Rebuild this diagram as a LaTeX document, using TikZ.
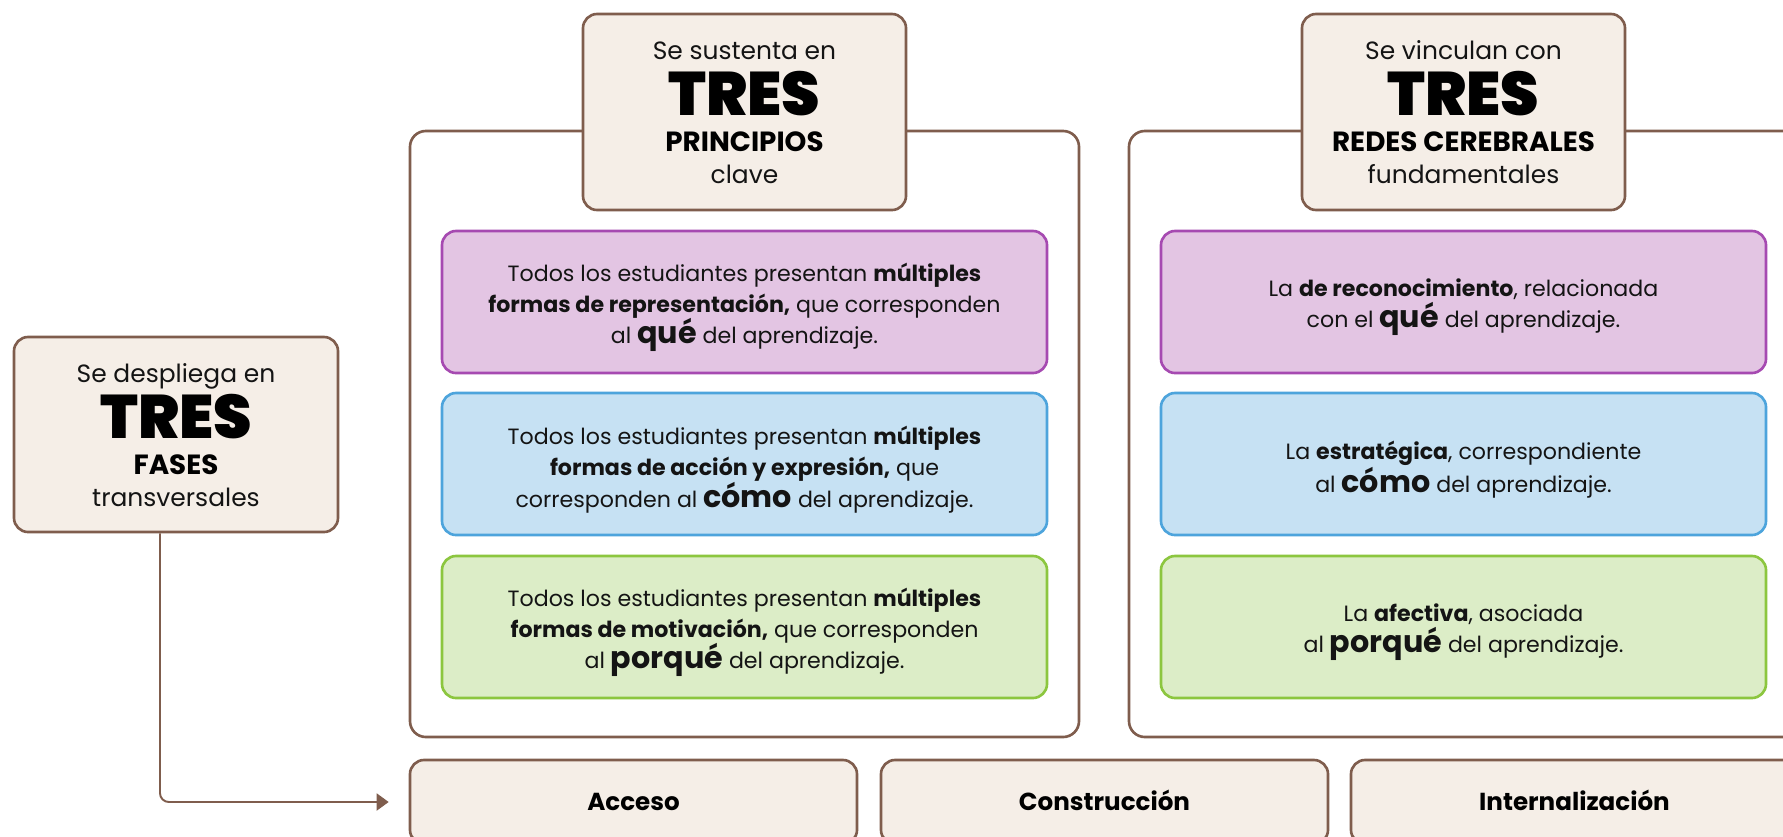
\documentclass[tikz,border=0pt]{standalone}
\usepackage{fontspec}
\setmainfont{Poppins}
\newfontfamily\gruesa{Poppins Black}
\usetikzlibrary{arrows.meta}
\definecolor{cafe}{HTML}{7F5D4D}
\definecolor{crema}{HTML}{F5EEE7}
\definecolor{tinta}{HTML}{141414}
\definecolor{moradoB}{HTML}{A64AB1}
\definecolor{moradoF}{HTML}{E3C5E3}
\definecolor{azulB}{HTML}{4DA4DC}
\definecolor{azulF}{HTML}{C6E1F3}
\definecolor{verdeB}{HTML}{8CC63F}
\definecolor{verdeF}{HTML}{DCEDC7}
\def\px{0.02cm}
\newcommand\enf[1]{{\fontsize{17.2}{18}\selectfont\bfseries #1}}
\tikzset{
	caja/.style={draw=cafe, fill=crema, line width=1.5pt, rounded corners=8pt, inner sep=0pt},
	marco/.style={draw=cafe, fill=white, line width=1.5pt, rounded corners=9pt, inner sep=0pt, minimum width=669*\px, minimum height=606*\px},
	cabeza/.style={caja, minimum width=323*\px, minimum height=196*\px},
	tarjeta/.style={line width=1.5pt, rounded corners=8pt, inner sep=0pt, minimum width=605*\px, minimum height=142*\px},
	morada/.style={tarjeta, draw=moradoB, fill=moradoF},
	azul/.style={tarjeta, draw=azulB, fill=azulF},
	verde/.style={tarjeta, draw=verdeB, fill=verdeF},
	texto/.style={align=center, inner sep=0pt, text=tinta, font=\fontsize{12.6}{17.8}\selectfont},
	chico/.style={anchor=base, inner sep=0pt, text=tinta, font=\fontsize{14.2}{16}\selectfont},
	grande/.style={anchor=base, inner sep=0pt, text=black, font=\gruesa\fontsize{35}{35}\selectfont},
	negrita/.style={anchor=base, inner sep=0pt, text=black, font=\bfseries\fontsize{15.8}{18}\selectfont},
	fase/.style={caja, minimum width=447*\px, minimum height=84*\px, text height=10pt, text depth=0pt, text=black, font=\bfseries\fontsize{14}{16}\selectfont},
	flecha/.style={draw=cafe, line width=1.1pt, rounded corners=5pt, -{Triangle[length=0.24cm, width=0.34cm]}}
}
\begin{document}
\begin{tikzpicture}[x=\px, y=-\px]
		%%%%% START %%%%%
		\useasboundingbox (0,0) rectangle (1783,836);
		\clip (0,0) rectangle (1783,836);
		
		\node[marco] (marcoP) at (744.5,434) {};
		\node[marco] (marcoR) at (1463.5,434) {};
		
		\node[cabeza] (principios) at (744.5,112) {};
		\node[chico] (prin1) at (744.5,59) {Se sustenta en};
		\node[grande] (prin2) at (744.5,115) {TRES};
		\node[negrita] (prin3) at (744.5,151) {PRINCIPIOS};
		\node[chico] (prin4) at (744.5,183) {clave};
		
		\node[cabeza] (redes) at (1463.5,112) {};
		\node[chico] (red1) at (1463.5,59) {Se vinculan con};
		\node[grande] (red2) at (1463.5,115) {TRES};
		\node[negrita] (red3) at (1463.5,151) {REDES CEREBRALES};
		\node[chico] (red4) at (1463.5,183) {fundamentales};
		
		\node[morada] (queP) at (744.5,302) {};
		\node[azul] (comoP) at (744.5,464) {};
		\node[verde] (porqueP) at (744.5,627) {};
		\node[texto] (queP-t) at ([yshift=-0.11cm]queP) {Todos los estudiantes presentan \textbf{múltiples}\\ \textbf{formas de representación,} que corresponden\\ al \enf{qué} del aprendizaje.};
		\node[texto] (comoP-t) at ([yshift=-0.11cm]comoP) {Todos los estudiantes presentan \textbf{múltiples}\\ \textbf{formas de acción y expresión,} que\\ corresponden al \enf{cómo} del aprendizaje.};
		\node[texto] (porqueP-t) at ([yshift=-0.11cm]porqueP) {Todos los estudiantes presentan \textbf{múltiples}\\ \textbf{formas de motivación,} que corresponden\\ al \enf{porqué} del aprendizaje.};
		
		\node[morada] (queR) at (1463.5,302) {};
		\node[azul] (comoR) at (1463.5,464) {};
		\node[verde] (porqueR) at (1463.5,627) {};
		\node[texto] (queR-t) at ([yshift=-0.11cm]queR) {La \textbf{de reconocimiento}, relacionada\\ con el \enf{qué} del aprendizaje.};
		\node[texto] (comoR-t) at ([yshift=-0.11cm]comoR) {La \textbf{estratégica}, correspondiente\\ al \enf{cómo} del aprendizaje.};
		\node[texto] (porqueR-t) at ([yshift=-0.11cm]porqueR) {La \textbf{afectiva}, asociada\\ al \enf{porqué} del aprendizaje.};
		
		\node[caja, minimum width=324*\px, minimum height=195*\px] (fases) at (176,434.5) {};
		\node[chico] (fas1) at (176,382) {Se despliega en};
		\node[grande] (fas2) at (176,438) {TRES};
		\node[negrita] (fas3) at (176,474) {FASES};
		\node[chico] (fas4) at (176,506) {transversales};
		
		\node[fase] (acceso) at (633.5,802) {Acceso};
		\node[fase] (construccion) at (1104.5,802) {Construcción};
		\node[fase] (internalizacion) at (1574.5,802) {Internalización};
		
		\draw[flecha, shorten >=20*\px] ([xshift=-16*\px]fases.south) |- (acceso.west);
		%%%%% END %%%%%
\end{tikzpicture}
\end{document}
